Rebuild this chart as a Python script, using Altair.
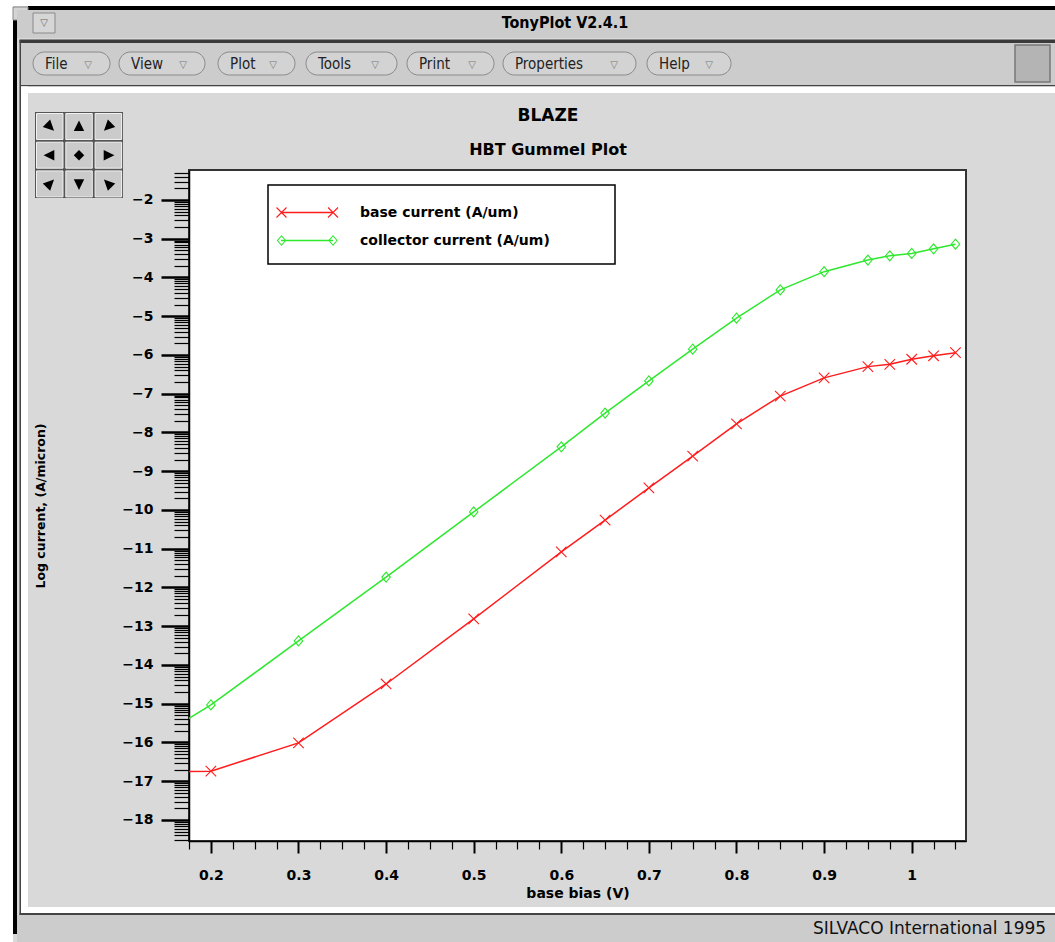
import math

import altair as alt
import numpy as np
import pandas as pd

# ---------------- data ----------------
series_names = ["base current (A/um)", "collector current (A/um)"]
bias = [0.1, 0.2, 0.3, 0.4, 0.5, 0.6, 0.65, 0.7, 0.75, 0.8, 0.85, 0.9,
        0.95, 0.975, 1.0, 1.025, 1.05]
base_current = [-16.78, -16.74, -16.01, -14.49, -12.81, -11.08, -10.26, -9.43,
                -8.61, -7.78, -7.06, -6.59, -6.30, -6.24, -6.11, -6.02, -5.94]
collector_current = [-16.43, -15.03, -13.38, -11.73, -10.05, -8.37, -7.50, -6.67,
                     -5.85, -5.05, -4.32, -3.85, -3.55, -3.44, -3.38, -3.26, -3.14]

x_major = [0.2, 0.3, 0.4, 0.5, 0.6, 0.7, 0.8, 0.9, 1.0]
x_minor = [round(0.175 + 0.025 * i, 3) for i in range(36)]
x_minor = [v for v in x_minor if all(abs(v - m) > 1e-6 for m in x_major)]
y_major = list(range(-18, -1))
y_minor = [round(d + np.log10(k), 4) for d in range(-19, -1) for k in range(2, 10)]
y_minor = [v for v in y_minor if -18.54 <= v <= -1.23]

menu_names = ["File", "View", "Plot", "Tools", "Print", "Properties", "Help"]

RED = "#ff1c1c"
GREEN = "#2ee82e"
FONT = "DejaVu Sans"
COND = "DejaVu Sans Condensed"

n = len(bias)
df = pd.DataFrame({
    "bias": bias * 2,
    "current": base_current + collector_current,
    "series": [series_names[0]] * n + [series_names[1]] * n,
})

# ---------------- layout helpers (chrome) ----------------
X0, Y0 = 189, 170
one = alt.Data(values=[{"k": 0}])


def box(x1, y1, x2, y2, fill, stroke=None, sw=1.0, r=0):
    kw = dict(fill=fill)
    if stroke:
        kw.update(stroke=stroke, strokeWidth=sw)
    if r:
        kw["cornerRadius"] = r
    return alt.Chart(one).mark_rect(**kw).encode(
        x=alt.value(x1 - X0), x2=alt.value(x2 - X0),
        y=alt.value(y1 - Y0), y2=alt.value(y2 - Y0))


def label(x, y, text, size, weight="normal", font=FONT, color="black", align="center"):
    return alt.Chart(one).mark_text(
        text=text, fontSize=size, fontWeight=weight, font=font, color=color,
        align=align, baseline="middle").encode(
        x=alt.value(x - X0), y=alt.value(y - Y0))


def glyph(x, y, shape, size, color="black", filled=True, sw=1.0):
    kw = dict(shape=shape, size=size, filled=filled, color=color, opacity=1)
    if not filled:
        kw["strokeWidth"] = sw
    return alt.Chart(one).mark_point(**kw).encode(
        x=alt.value(x - X0), y=alt.value(y - Y0))


def arrow_path(deg):
    """Triangle glyph pointing in screen direction deg (0 = right, 90 = down)."""
    t = math.radians(deg)
    c, s = math.cos(t), math.sin(t)
    pts = [(1.0, 0.0), (-0.75, -0.85), (-0.75, 0.85)]
    rot = [(c * px - s * py, s * px + c * py) for px, py in pts]
    return "M" + "L".join(f"{px:.3f},{py:.3f}" for px, py in rot) + "Z"


XPATH = "M-1,-1L1,1M-1,1L1,-1"
DPATH = "M0,-1L0.85,0L0,1L-0.85,0Z"

chrome = [
    box(0, 0, 1055, 6, "white"),
    box(0, 0, 13, 942, "white"),
    box(28, 6, 1055, 10, "black"),
    box(13, 20, 17, 934, "black"),
    box(13, 7, 28, 20, "#d4d4d4", stroke="#888", sw=1),
    box(17, 10, 1055, 38, "#cccccc"),
    box(33, 13, 55, 33, "#d6d6d6", stroke="#8a8a8a", sw=1),
    label(44, 23, "▽", 10, color="#666"),
    label(565, 23, "TonyPlot V2.4.1", 16, "bold", font=COND),
    box(19.5, 39.5, 1055, 43, "#3a3a3a"),
    box(21, 43, 1055, 85, "#cccccc"),
    box(21, 85, 1055, 86.5, "#444444"),
    box(21, 86.5, 1055, 93, "white"),
    box(19.5, 40, 21, 915, "#444444"),
    box(21, 86.5, 28, 913, "white"),
    box(21, 907, 1055, 913, "white"),
    box(19.5, 913, 1055, 915, "#444444"),
    box(17, 915, 1055, 942, "#cccccc"),
    label(813, 929, "SILVACO International 1995", 17, color="#111", align="left"),
    box(1015, 45, 1050, 82, "#b4b4b4", stroke="#777", sw=1.5),
]

menu_spans = [(33, 110), (119, 205), (218, 295), (306, 397), (407, 494), (503, 636), (647, 731)]
for name, (a, b) in zip(menu_names, menu_spans):
    chrome.append(box(a, 52, b, 75, "#d3d3d3", stroke="#8a8a8a", sw=1, r=11.5))
    chrome.append(label(a + 12, 63.5, name, 15, font=COND, color="#222", align="left"))
    chrome.append(label(b - 22, 64.5, "▽", 10, color="#777"))

# navigation pad
chrome.append(box(35, 112, 123, 198, "#555555"))
cells_x = [35, 64.3, 93.6]
cells_y = [112, 140.7, 169.4]
for cy in cells_y:
    for cx in cells_x:
        chrome.append(box(cx + 1.5, cy + 1.5, cx + 28, cy + 27.5, "#cbcbcb", stroke="#f2f2f2", sw=1))
pad_dirs = [45, -90, 135, 180, None, 0, -45, 90, -135]
for i, d in enumerate(pad_dirs):
    cx = cells_x[i % 3] + 14.7
    cy = cells_y[i // 3] + 14.5
    if d is None:
        chrome.append(glyph(cx, cy, "diamond", 110))
    else:
        chrome.append(glyph(cx, cy, arrow_path(d), 150))

# plot titles
chrome.append(label(548, 116, "BLAZE", 17, "bold"))
chrome.append(label(548, 150, "HBT Gummel Plot", 16, "bold"))

# ---------------- plot ----------------
xs = alt.Scale(domain=[0.175, 1.062], nice=False, zero=False)
ys = alt.Scale(domain=[-18.542, -1.226], nice=False, zero=False)
cs = alt.Scale(domain=series_names, range=[RED, GREEN])

x_axis = alt.Axis(
    orient="bottom", values=x_major, format=".1~f", grid=False,
    tickSize=12, tickWidth=2, tickColor="black",
    domainColor="black", domainWidth=1.5,
    labelFont=FONT, labelFontSize=14, labelFontWeight="bold", labelColor="black",
    labelPadding=15, labelFlush=False, labelOverlap=False,
    title="base bias (V)", titleFont=FONT, titleFontSize=14, titleFontWeight="bold",
    titleColor="black", titleY=52, titleBaseline="middle")
y_axis = alt.Axis(
    orient="left", values=y_major, format="d", grid=False,
    tickSize=28, tickWidth=2.5, tickColor="black",
    domainColor="black", domainWidth=1.5,
    labelFont=FONT, labelFontSize=14, labelFontWeight="bold", labelColor="black",
    labelPadding=8, labelFlush=False, labelOverlap=False,
    title="Log current, (A/micron)", titleFont=FONT, titleFontSize=12.5,
    titleFontWeight="bold", titleColor="black", titleAngle=270,
    titleX=-149, titleY=335.5, titleAlign="center", titleBaseline="middle")
x_axis_minor = alt.Axis(
    orient="bottom", values=x_minor, labels=False, domain=False, grid=False,
    tickSize=8, tickWidth=1.2, tickColor="black", title=None)
y_axis_minor = alt.Axis(
    orient="left", values=y_minor, labels=False, domain=False, grid=False,
    tickSize=15, tickWidth=1.2, tickColor="black", title=None)

lines = alt.Chart(df).mark_line(clip=True, strokeWidth=1.5).encode(
    x=alt.X("bias:Q", scale=xs, axis=x_axis),
    y=alt.Y("current:Q", scale=ys, axis=y_axis),
    color=alt.Color("series:N", scale=cs, legend=None),
)
minor = alt.Chart(df).mark_point(opacity=0, clip=True).encode(
    x=alt.X("bias:Q", scale=xs, axis=x_axis_minor),
    y=alt.Y("current:Q", scale=ys, axis=y_axis_minor),
)
pts_base = alt.Chart(df).transform_filter(
    alt.datum.series == series_names[0]
).mark_point(shape=XPATH, filled=False, color=RED, size=110, strokeWidth=1.1,
             clip=True, opacity=1).encode(
    x=alt.X("bias:Q", scale=xs, axis=None),
    y=alt.Y("current:Q", scale=ys, axis=None),
)
pts_coll = alt.Chart(df).transform_filter(
    alt.datum.series == series_names[1]
).mark_point(shape=DPATH, filled=False, color=GREEN, size=100, strokeWidth=1.1,
             clip=True, opacity=1).encode(
    x=alt.X("bias:Q", scale=xs, axis=None),
    y=alt.Y("current:Q", scale=ys, axis=None),
)

legend = [
    box(268, 185, 615, 264, "white", stroke="black", sw=1.5),
    alt.Chart(one).mark_rule(color=RED, strokeWidth=1.5).encode(
        x=alt.value(281 - X0), x2=alt.value(333 - X0), y=alt.value(212.5 - Y0)),
    glyph(281.5, 212.5, XPATH, 100, color=RED, filled=False, sw=1.1),
    glyph(333, 212.5, XPATH, 100, color=RED, filled=False, sw=1.1),
    label(360, 213, series_names[0], 14, "bold", align="left"),
    alt.Chart(one).mark_rule(color=GREEN, strokeWidth=1.5).encode(
        x=alt.value(281 - X0), x2=alt.value(333 - X0), y=alt.value(240.5 - Y0)),
    glyph(281.5, 240.5, DPATH, 90, color=GREEN, filled=False, sw=1.1),
    glyph(333, 240.5, DPATH, 90, color=GREEN, filled=False, sw=1.1),
    label(360, 241, series_names[1], 14, "bold", align="left"),
]

chart = alt.layer(
    lines, minor, pts_base, pts_coll, *chrome, *legend
).resolve_axis(
    x="independent", y="independent"
).properties(
    width=777, height=671,
    padding={"left": 189, "top": 170, "right": 89, "bottom": 101},
    autosize=alt.AutoSizeParams(type="none"),
    background="#d9d9d9",
).configure_view(
    fill="white", stroke="#333333", strokeWidth=2
)

chart.save("out.html", embed_options={"renderer": "svg", "actions": False})
